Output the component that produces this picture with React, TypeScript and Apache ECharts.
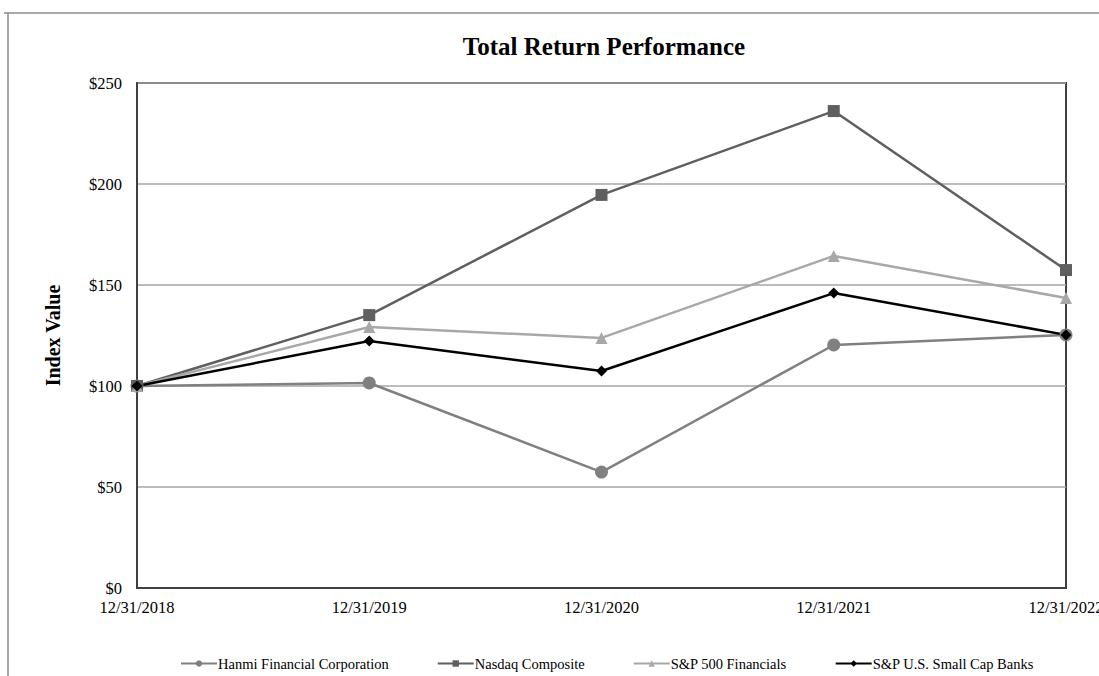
import React, { useEffect, useRef } from "react";
import * as echarts from "echarts";

const categories = ["12/31/2018", "12/31/2019", "12/31/2020", "12/31/2021", "12/31/2022"];
const hanmi = [100, 101.5, 57.4, 120.3, 125.3];
const nasdaq = [100, 135.1, 194.6, 236.1, 157.4];
const sp500Fin = [100, 129.2, 123.8, 164.4, 143.6];
const smallCapBanks = [100, 122.3, 107.4, 146.0, 125.3];
const yTicks = [0, 50, 100, 150, 200, 250];

const serif = "'Liberation Serif', 'Times New Roman', serif";

export default function App() {
  const ref = useRef<HTMLDivElement>(null);
  useEffect(() => {
    const chart = echarts.init(ref.current!, undefined, { renderer: "svg" });
    const mk = (name: string, data: number[], color: string, symbol: string, size: number, width: number) => ({
      name,
      type: "line",
      data,
      symbol,
      symbolSize: size,
      showSymbol: true,
      lineStyle: { color, width },
      itemStyle: { color },
      emphasis: { disabled: true },
    });
    chart.setOption({
      animation: false,
      title: {
        text: "Total Return Performance",
        left: 599,
        textAlign: "center",
        top: 29,
        textStyle: { fontFamily: serif, fontSize: 25, fontWeight: "bold", color: "#000" },
      },
      graphic: [
        { type: "line", shape: { x1: 4, y1: 13, x2: 1099, y2: 13 }, style: { stroke: "#8c8c8c", lineWidth: 1.5 } },
        { type: "line", shape: { x1: 8, y1: 13, x2: 8, y2: 676 }, style: { stroke: "#8c8c8c", lineWidth: 1.5 } },
      ],
      legend: {
        left: 175,
        top: 651,
        itemGap: 48,
        itemWidth: 36,
        itemHeight: 8,
        textStyle: { fontFamily: serif, fontSize: 14.5, color: "#000", padding: [0, 0, 0, -4] },
        data: ["Hanmi Financial Corporation", "Nasdaq Composite", "S&P 500 Financials", "S&P U.S. Small Cap Banks"],
      },
      grid: {
        left: 137,
        right: 33,
        top: 83,
        bottom: 88,
        show: true,
        borderColor: "#404040",
        borderWidth: 2,
        outerBoundsMode: "none",
        containLabel: false,
      },
      xAxis: {
        type: "category",
        data: categories,
        boundaryGap: false,
        axisLine: { lineStyle: { color: "#404040", width: 2 } },
        axisTick: { show: false },
        axisLabel: { fontFamily: serif, fontSize: 16.5, color: "#000", margin: 11 },
      },
      yAxis: {
        type: "value",
        min: yTicks[0],
        max: yTicks[yTicks.length - 1],
        interval: 50,
        name: "Index Value",
        nameLocation: "middle",
        nameGap: 74,
        nameTextStyle: { fontFamily: serif, fontSize: 20, fontWeight: "bold", color: "#000" },
        axisLine: { show: true, lineStyle: { color: "#404040", width: 2 } },
        axisTick: { show: false },
        axisLabel: { fontFamily: serif, fontSize: 16.5, color: "#000", margin: 15, formatter: (v: number) => "$" + v },
        splitLine: { lineStyle: { color: "#a6a6a6", width: 1.5 } },
      },
      series: [
        mk("Hanmi Financial Corporation", hanmi, "#808080", "circle", 13, 2.5),
        mk("Nasdaq Composite", nasdaq, "#5f5f5f", "rect", 12, 2.5),
        mk("S&P 500 Financials", sp500Fin, "#a8a8a8", "triangle", 12, 2.5),
        mk("S&P U.S. Small Cap Banks", smallCapBanks, "#000000", "diamond", 11, 2.5),
      ],
    });
    return () => chart.dispose();
  }, []);
  return <div ref={ref} style={{ position: "absolute", left: 0, top: 0, width: 1099, height: 676, background: "#fff" }} />;
}
